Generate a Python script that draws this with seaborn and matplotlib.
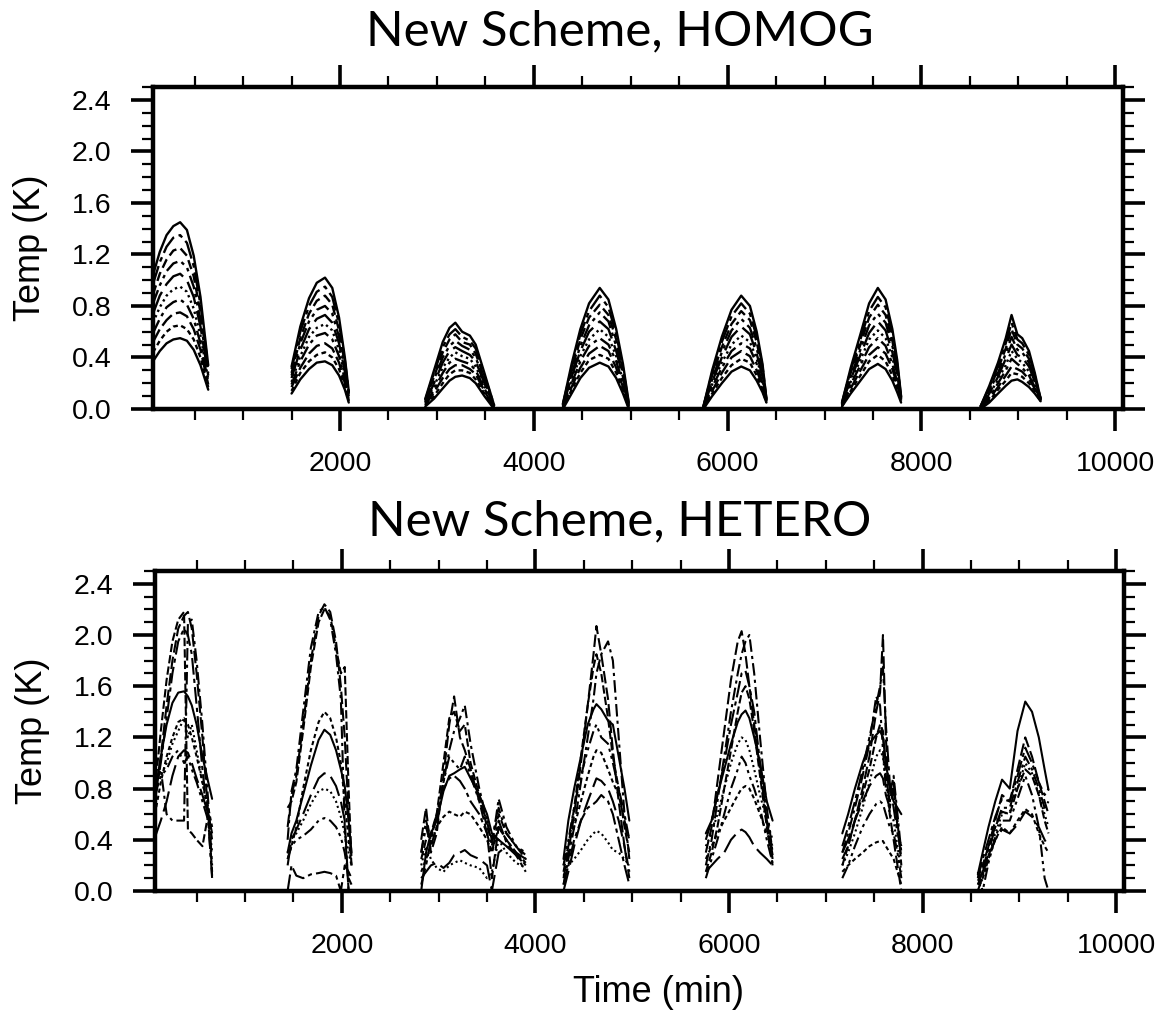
import pandas as pd
import seaborn as sns
import matplotlib.pyplot as plt
from matplotlib.ticker import MultipleLocator, FormatStrFormatter

# ---------------- HOMOG panel: ten nested curves per day ----------------
HOMOG_T1 = [70, 140, 210, 280, 350, 420, 490, 560, 640]
HOMOG_D1 = [
    [0.37, 0.45, 0.51, 0.54, 0.55, 0.53, 0.46, 0.34, 0.15],
    [0.44, 0.53, 0.60, 0.64, 0.65, 0.62, 0.54, 0.40, 0.17],
    [0.52, 0.62, 0.69, 0.74, 0.75, 0.72, 0.62, 0.46, 0.19],
    [0.59, 0.70, 0.79, 0.83, 0.85, 0.81, 0.70, 0.51, 0.21],
    [0.67, 0.79, 0.88, 0.93, 0.95, 0.91, 0.78, 0.57, 0.23],
    [0.74, 0.88, 0.97, 1.03, 1.05, 1.00, 0.87, 0.64, 0.26],
    [0.82, 0.96, 1.07, 1.13, 1.15, 1.10, 0.95, 0.69, 0.28],
    [0.89, 1.05, 1.16, 1.23, 1.25, 1.19, 1.03, 0.75, 0.30],
    [0.97, 1.14, 1.26, 1.33, 1.35, 1.29, 1.11, 0.81, 0.32],
    [1.04, 1.22, 1.35, 1.42, 1.45, 1.39, 1.19, 0.87, 0.34],
]
HOMOG_T2 = [1500, 1590, 1680, 1760, 1845, 1920, 1990, 2050, 2090]
HOMOG_D2 = [
    [0.12, 0.23, 0.31, 0.36, 0.37, 0.34, 0.26, 0.15, 0.05],
    [0.14, 0.28, 0.37, 0.42, 0.44, 0.40, 0.31, 0.17, 0.06],
    [0.17, 0.32, 0.43, 0.49, 0.51, 0.47, 0.36, 0.20, 0.07],
    [0.19, 0.37, 0.50, 0.57, 0.59, 0.54, 0.41, 0.23, 0.08],
    [0.21, 0.41, 0.56, 0.63, 0.66, 0.61, 0.46, 0.26, 0.09],
    [0.24, 0.46, 0.62, 0.70, 0.73, 0.67, 0.51, 0.29, 0.10],
    [0.26, 0.51, 0.68, 0.77, 0.80, 0.74, 0.56, 0.32, 0.11],
    [0.28, 0.55, 0.74, 0.84, 0.88, 0.81, 0.61, 0.35, 0.12],
    [0.31, 0.60, 0.80, 0.91, 0.95, 0.87, 0.66, 0.38, 0.13],
    [0.33, 0.64, 0.86, 0.98, 1.02, 0.94, 0.71, 0.40, 0.14],
]
HOMOG_T3 = [2880, 2970, 3060, 3130, 3190, 3260, 3340, 3400, 3490, 3590]
HOMOG_D3 = [
    [0.02, 0.08, 0.16, 0.22, 0.25, 0.26, 0.24, 0.20, 0.10, 0.00],
    [0.03, 0.10, 0.20, 0.27, 0.30, 0.30, 0.28, 0.23, 0.12, 0.00],
    [0.03, 0.13, 0.24, 0.31, 0.34, 0.34, 0.31, 0.27, 0.14, 0.01],
    [0.04, 0.15, 0.28, 0.36, 0.39, 0.37, 0.35, 0.30, 0.16, 0.01],
    [0.05, 0.18, 0.32, 0.40, 0.44, 0.41, 0.39, 0.33, 0.18, 0.01],
    [0.05, 0.20, 0.36, 0.45, 0.48, 0.45, 0.42, 0.37, 0.20, 0.02],
    [0.06, 0.23, 0.40, 0.49, 0.53, 0.49, 0.46, 0.40, 0.22, 0.02],
    [0.07, 0.25, 0.44, 0.54, 0.58, 0.52, 0.50, 0.43, 0.24, 0.02],
    [0.07, 0.28, 0.48, 0.58, 0.62, 0.56, 0.53, 0.47, 0.26, 0.03],
    [0.08, 0.30, 0.52, 0.63, 0.67, 0.60, 0.57, 0.50, 0.28, 0.03],
]
HOMOG_T4 = [4300, 4390, 4480, 4570, 4680, 4770, 4850, 4920, 4980]
HOMOG_D4 = [
    [0.00, 0.12, 0.24, 0.32, 0.36, 0.33, 0.24, 0.12, 0.00],
    [0.00, 0.15, 0.28, 0.38, 0.42, 0.39, 0.28, 0.15, 0.01],
    [0.01, 0.17, 0.32, 0.43, 0.49, 0.45, 0.32, 0.17, 0.01],
    [0.01, 0.20, 0.37, 0.49, 0.55, 0.50, 0.37, 0.20, 0.02],
    [0.02, 0.22, 0.41, 0.54, 0.62, 0.56, 0.41, 0.22, 0.02],
    [0.02, 0.25, 0.45, 0.60, 0.68, 0.62, 0.45, 0.25, 0.03],
    [0.03, 0.27, 0.49, 0.65, 0.75, 0.68, 0.49, 0.27, 0.03],
    [0.03, 0.30, 0.54, 0.71, 0.81, 0.73, 0.54, 0.30, 0.04],
    [0.04, 0.32, 0.58, 0.76, 0.88, 0.79, 0.58, 0.32, 0.04],
    [0.04, 0.35, 0.62, 0.82, 0.94, 0.85, 0.62, 0.35, 0.05],
]
HOMOG_T5 = [5750, 5840, 5940, 6040, 6140, 6230, 6300, 6360, 6400]
HOMOG_D5 = [
    [0.00, 0.10, 0.20, 0.29, 0.33, 0.30, 0.22, 0.13, 0.05],
    [0.00, 0.12, 0.24, 0.34, 0.39, 0.36, 0.26, 0.15, 0.05],
    [0.00, 0.14, 0.28, 0.40, 0.45, 0.41, 0.30, 0.18, 0.06],
    [0.01, 0.17, 0.32, 0.45, 0.51, 0.47, 0.35, 0.20, 0.06],
    [0.01, 0.19, 0.36, 0.50, 0.57, 0.52, 0.39, 0.23, 0.06],
    [0.01, 0.21, 0.40, 0.56, 0.64, 0.58, 0.43, 0.25, 0.07],
    [0.01, 0.23, 0.44, 0.61, 0.70, 0.63, 0.47, 0.28, 0.07],
    [0.02, 0.26, 0.48, 0.66, 0.76, 0.69, 0.52, 0.30, 0.07],
    [0.02, 0.28, 0.52, 0.72, 0.82, 0.74, 0.56, 0.33, 0.08],
    [0.02, 0.30, 0.56, 0.77, 0.88, 0.80, 0.60, 0.35, 0.08],
]
HOMOG_T6 = [7180, 7270, 7370, 7460, 7550, 7630, 7700, 7750, 7790]
HOMOG_D6 = [
    [0.02, 0.12, 0.22, 0.31, 0.35, 0.31, 0.22, 0.13, 0.05],
    [0.02, 0.14, 0.26, 0.37, 0.42, 0.37, 0.26, 0.16, 0.06],
    [0.03, 0.16, 0.30, 0.42, 0.48, 0.43, 0.31, 0.19, 0.06],
    [0.03, 0.19, 0.34, 0.48, 0.55, 0.49, 0.35, 0.21, 0.07],
    [0.03, 0.21, 0.38, 0.54, 0.61, 0.55, 0.40, 0.24, 0.07],
    [0.04, 0.23, 0.42, 0.59, 0.68, 0.61, 0.44, 0.27, 0.08],
    [0.04, 0.25, 0.46, 0.65, 0.74, 0.67, 0.49, 0.30, 0.08],
    [0.04, 0.28, 0.50, 0.71, 0.81, 0.73, 0.53, 0.32, 0.09],
    [0.05, 0.30, 0.54, 0.76, 0.87, 0.79, 0.58, 0.35, 0.09],
    [0.05, 0.32, 0.58, 0.82, 0.94, 0.85, 0.62, 0.38, 0.10],
]
HOMOG_T7 = [8610, 8700, 8790, 8870, 8930, 8990, 9040, 9110, 9170, 9230]
HOMOG_D7 = [
    [0.00, 0.05, 0.12, 0.18, 0.22, 0.23, 0.21, 0.17, 0.12, 0.06],
    [0.00, 0.06, 0.15, 0.22, 0.28, 0.27, 0.25, 0.20, 0.14, 0.06],
    [0.00, 0.08, 0.17, 0.26, 0.33, 0.31, 0.29, 0.23, 0.16, 0.06],
    [0.01, 0.09, 0.20, 0.30, 0.39, 0.35, 0.32, 0.26, 0.17, 0.07],
    [0.01, 0.11, 0.23, 0.34, 0.45, 0.39, 0.36, 0.29, 0.19, 0.07],
    [0.01, 0.12, 0.25, 0.39, 0.50, 0.42, 0.40, 0.33, 0.21, 0.07],
    [0.01, 0.14, 0.28, 0.43, 0.56, 0.46, 0.44, 0.36, 0.23, 0.07],
    [0.02, 0.15, 0.31, 0.47, 0.62, 0.50, 0.47, 0.39, 0.24, 0.08],
    [0.02, 0.17, 0.33, 0.51, 0.67, 0.54, 0.51, 0.42, 0.26, 0.08],
    [0.02, 0.18, 0.36, 0.55, 0.73, 0.58, 0.55, 0.45, 0.28, 0.08],
]

# ---------------- HETERO panel: nine ensemble members per day ----------------
HETERO_T1 = [70, 130, 190, 250, 310, 370, 410, 450, 500, 560, 620, 660]
HETERO_D1 = [
    [0.75, 1.05, 1.30, 1.47, 1.55, 1.56, 1.52, 1.45, 1.30, 1.05, 0.85, 0.72],
    [0.70, 1.05, 1.45, 1.80, 2.05, 2.15, 2.18, 2.05, 1.70, 1.20, 0.60, 0.15],
    [0.85, 0.95, 0.60, 0.55, 0.55, 0.55, 2.10, 2.12, 1.80, 1.30, 0.70, 0.20],
    [0.80, 1.25, 1.65, 1.95, 2.12, 2.18, 0.48, 0.45, 0.40, 0.35, 0.60, 0.40],
    [0.60, 0.85, 1.05, 1.20, 1.32, 1.35, 1.30, 1.20, 1.05, 0.85, 0.65, 0.50],
    [0.42, 0.55, 0.70, 0.90, 1.05, 1.10, 1.08, 1.00, 0.88, 0.75, 0.60, 0.45],
    [0.95, 0.90, 1.00, 1.15, 1.25, 1.35, 1.20, 1.30, 1.10, 0.85, 0.60, 0.30],
    [0.75, 0.90, 0.95, 1.05, 1.10, 1.00, 1.05, 0.95, 0.85, 0.70, 0.55, 0.12],
    [0.72, 1.00, 1.35, 1.70, 1.95, 2.05, 2.00, 1.85, 1.45, 0.95, 0.55, 0.10],
]
HETERO_T2 = [1440, 1480, 1530, 1600, 1680, 1760, 1820, 1880, 1940, 1990, 2030, 2070, 2100]
HETERO_D2 = [
    [0.30, 0.45, 0.55, 0.75, 0.98, 1.18, 1.26, 1.22, 1.10, 0.95, 0.82, 0.55, 0.30],
    [0.50, 0.75, 0.90, 1.30, 1.80, 2.15, 2.24, 2.18, 1.95, 1.60, 1.20, 0.60, 0.20],
    [0.40, 0.78, 0.95, 1.40, 1.90, 2.18, 2.22, 2.12, 1.85, 1.50, 0.50, 0.00, 0.00],
    [0.65, 0.70, 0.85, 1.25, 1.75, 2.10, 2.20, 2.15, 1.90, 1.70, 1.75, 0.80, 0.25],
    [0.25, 0.35, 0.50, 0.80, 1.10, 1.32, 1.40, 1.35, 1.20, 1.00, 0.70, 0.40, 0.20],
    [0.20, 0.40, 0.48, 0.60, 0.75, 0.88, 0.92, 0.90, 0.82, 0.70, 0.55, 0.00, 0.00],
    [0.30, 0.42, 0.45, 0.55, 0.68, 0.78, 0.80, 0.78, 0.70, 0.58, 0.45, 0.30, 0.20],
    [0.25, 0.35, 0.40, 0.43, 0.48, 0.55, 0.57, 0.55, 0.50, 0.42, 0.30, 0.10, 0.05],
    [0.00, 0.20, 0.12, 0.10, 0.13, 0.14, 0.15, 0.14, 0.12, 0.00, 0.20, 0.15, 0.10],
]
HETERO_T3 = [2820, 2870, 2920, 2980, 3050, 3110, 3160, 3220, 3270, 3330, 3420,
             3500, 3550, 3620, 3700, 3800, 3900]
HETERO_D3 = [
    [0.00, 0.30, 0.45, 0.55, 0.78, 0.90, 0.92, 0.95, 0.97, 0.88, 0.75, 0.60, 0.45, 0.40, 0.35, 0.30, 0.25],
    [0.40, 0.65, 0.30, 0.45, 0.90, 1.30, 1.52, 1.20, 1.10, 0.95, 0.70, 0.45, 0.10, 0.50, 0.40, 0.30, 0.20],
    [0.30, 0.50, 0.35, 0.50, 0.85, 1.10, 1.25, 1.35, 1.45, 1.15, 0.80, 0.55, 0.35, 0.72, 0.50, 0.35, 0.25],
    [0.25, 0.40, 0.45, 0.60, 1.00, 1.35, 1.40, 1.25, 1.30, 1.00, 0.75, 0.50, 0.40, 0.60, 0.45, 0.35, 0.28],
    [0.15, 0.25, 0.35, 0.50, 0.58, 0.62, 0.60, 0.58, 0.62, 0.60, 0.50, 0.40, 0.30, 0.50, 0.40, 0.30, 0.22],
    [0.10, 0.15, 0.20, 0.22, 0.18, 0.22, 0.28, 0.30, 0.32, 0.28, 0.25, 0.20, 0.00, 0.30, 0.35, 0.28, 0.20],
    [0.20, 0.35, 0.25, 0.18, 0.15, 0.20, 0.22, 0.24, 0.22, 0.20, 0.18, 0.10, 0.15, 0.40, 0.30, 0.22, 0.18],
    [0.30, 0.55, 0.40, 0.60, 0.85, 1.05, 1.00, 0.95, 1.05, 0.90, 0.70, 0.55, 0.40, 0.65, 0.45, 0.35, 0.30],
    [0.05, 0.20, 0.40, 0.60, 0.80, 0.88, 0.90, 0.86, 0.80, 0.70, 0.60, 0.45, 0.30, 0.55, 0.38, 0.28, 0.15],
]
HETERO_T4 = [4290, 4340, 4400, 4470, 4540, 4600, 4630, 4680, 4750, 4800, 4860, 4920, 4970]
HETERO_D4 = [
    [0.25, 0.55, 0.80, 1.05, 1.30, 1.42, 1.46, 1.42, 1.33, 1.30, 1.05, 0.80, 0.55],
    [0.10, 0.30, 0.60, 1.00, 1.45, 1.85, 2.07, 1.85, 1.50, 1.10, 0.70, 0.35, 0.15],
    [0.05, 0.25, 0.50, 0.85, 1.20, 1.50, 1.70, 1.85, 1.95, 1.80, 1.20, 0.60, 0.25],
    [0.15, 0.35, 0.65, 1.05, 1.45, 1.75, 1.85, 1.70, 1.35, 1.05, 0.80, 0.50, 0.30],
    [0.20, 0.35, 0.50, 0.70, 0.90, 1.05, 1.10, 1.08, 0.95, 0.85, 0.75, 0.55, 0.40],
    [0.00, 0.15, 0.35, 0.55, 0.70, 0.82, 0.88, 0.86, 0.80, 0.70, 0.55, 0.35, 0.10],
    [0.12, 0.20, 0.25, 0.32, 0.40, 0.45, 0.47, 0.45, 0.38, 0.32, 0.30, 0.25, 0.20],
    [0.20, 0.40, 0.65, 0.90, 1.10, 1.25, 1.30, 1.20, 1.15, 1.00, 0.80, 0.60, 0.40],
    [0.05, 0.20, 0.40, 0.55, 0.65, 0.68, 0.70, 0.75, 0.70, 0.60, 0.40, 0.20, 0.05],
]
HETERO_T5 = [5760, 5820, 5880, 5950, 6020, 6090, 6130, 6170, 6210, 6260, 6320, 6390, 6450]
HETERO_D5 = [
    [0.45, 0.55, 0.75, 0.95, 1.15, 1.32, 1.38, 1.41, 1.35, 1.20, 1.00, 0.70, 0.55],
    [0.30, 0.50, 0.85, 1.25, 1.65, 1.95, 2.03, 1.85, 1.60, 1.30, 0.95, 0.55, 0.25],
    [0.20, 0.40, 0.70, 1.05, 1.40, 1.70, 1.85, 1.95, 2.00, 1.70, 1.20, 0.65, 0.30],
    [0.15, 0.30, 0.50, 0.80, 1.10, 1.40, 1.55, 1.60, 1.50, 1.25, 0.90, 0.50, 0.20],
    [0.25, 0.35, 0.45, 0.55, 0.65, 0.75, 0.80, 0.82, 0.80, 0.72, 0.60, 0.45, 0.35],
    [0.15, 0.20, 0.25, 0.30, 0.40, 0.46, 0.48, 0.46, 0.42, 0.35, 0.30, 0.25, 0.20],
    [0.35, 0.45, 0.60, 0.80, 1.00, 1.15, 1.20, 1.18, 1.10, 0.95, 0.75, 0.55, 0.40],
    [0.10, 0.25, 0.40, 0.60, 0.80, 0.95, 1.05, 1.00, 0.90, 0.80, 0.65, 0.40, 0.22],
    [0.40, 0.55, 0.75, 1.00, 1.30, 1.55, 1.70, 1.72, 1.60, 1.40, 1.00, 0.55, 0.28],
]
HETERO_T6 = [7170, 7230, 7300, 7380, 7450, 7520, 7560, 7590, 7620, 7660, 7700, 7740, 7780]
HETERO_D6 = [
    [0.45, 0.60, 0.80, 1.00, 1.15, 1.22, 1.25, 1.20, 1.00, 0.80, 0.70, 0.65, 0.60],
    [0.25, 0.35, 0.55, 0.80, 1.05, 1.40, 1.55, 2.00, 1.20, 0.60, 0.40, 0.20, 0.00],
    [0.30, 0.45, 0.65, 0.90, 1.15, 1.52, 1.45, 1.10, 0.80, 0.75, 0.90, 0.60, 0.30],
    [0.20, 0.35, 0.55, 0.75, 0.95, 1.20, 1.30, 1.25, 0.90, 0.70, 0.85, 0.55, 0.20],
    [0.15, 0.20, 0.25, 0.30, 0.35, 0.38, 0.39, 0.39, 0.35, 0.30, 0.25, 0.15, 0.05],
    [0.30, 0.40, 0.55, 0.70, 0.82, 0.90, 0.92, 0.88, 0.75, 0.65, 0.80, 0.50, 0.25],
    [0.20, 0.30, 0.45, 0.65, 0.85, 1.05, 1.10, 1.05, 0.85, 0.60, 0.55, 0.35, 0.15],
    [0.10, 0.20, 0.35, 0.50, 0.60, 0.68, 0.70, 0.68, 0.60, 0.50, 0.45, 0.30, 0.10],
    [0.35, 0.50, 0.70, 0.95, 1.20, 1.45, 1.60, 1.75, 1.30, 0.85, 0.65, 0.45, 0.35],
]
HETERO_T7 = [8570, 8620, 8680, 8750, 8820, 8900, 8980, 9060, 9130, 9200, 9260, 9300]
HETERO_D7 = [
    [0.13, 0.30, 0.50, 0.70, 0.87, 0.80, 1.25, 1.48, 1.40, 1.20, 0.95, 0.79],
    [0.05, 0.15, 0.35, 0.55, 0.75, 0.70, 0.95, 1.20, 1.05, 0.85, 0.70, 0.60],
    [0.00, 0.12, 0.30, 0.50, 0.65, 0.65, 0.85, 1.05, 0.95, 0.80, 0.65, 0.70],
    [0.10, 0.20, 0.35, 0.50, 0.62, 0.60, 0.80, 0.95, 0.90, 0.75, 0.55, 0.45],
    [0.05, 0.10, 0.25, 0.40, 0.50, 0.45, 0.55, 0.64, 0.60, 0.45, 0.35, 0.30],
    [0.08, 0.15, 0.28, 0.40, 0.48, 0.45, 0.52, 0.62, 0.58, 0.50, 0.40, 0.35],
    [0.00, 0.10, 0.25, 0.45, 0.60, 0.62, 0.80, 1.00, 0.92, 0.75, 0.60, 0.50],
    [0.15, 0.00, 0.22, 0.42, 0.55, 0.55, 0.72, 0.90, 0.75, 0.50, 0.10, 0.00],
    [0.10, 0.25, 0.40, 0.58, 0.72, 0.70, 0.90, 1.12, 1.00, 0.85, 0.75, 0.80],
]

HOMOG_DASHES = ["", (2, 1.5), (6, 2), (6, 2, 1.5, 2), (1, 1.5), (10, 3),
                (6, 2, 1.5, 2, 1.5, 2), (4, 2), (8, 2, 2, 2), ""]
HETERO_DASHES = ["", (6, 2), (6, 2, 1.5, 2), (4, 1.5), (2, 1.5), (10, 3),
                 (1, 1.5), (6, 2, 1.5, 2, 1.5, 2), (8, 2, 2, 2)]


def long_frame(times, curves, tag):
    rows = []
    for d, (t, day) in enumerate(zip(times, curves)):
        for k, vals in enumerate(day):
            for x, y in zip(t, vals):
                rows.append((x, y, "m%d" % k, "%s%d_%d" % (tag, d, k)))
    return pd.DataFrame(rows, columns=["time", "temp", "member", "line"])


def style_axes(ax):
    ax.set_xlim(70, 10080)
    ax.set_ylim(0, 2.5)
    ax.xaxis.set_major_locator(MultipleLocator(2000))
    ax.xaxis.set_minor_locator(MultipleLocator(500))
    ax.yaxis.set_major_locator(MultipleLocator(0.4))
    ax.yaxis.set_minor_locator(MultipleLocator(0.1))
    ax.yaxis.set_major_formatter(FormatStrFormatter("%.1f"))
    for sp in ax.spines.values():
        sp.set_linewidth(3.2)
        sp.set_color("black")
    ax.tick_params(which="major", direction="out", length=16, width=2.6,
                   top=True, right=True, labelsize=20.5, pad=14,
                   color="black", labelcolor="black")
    ax.tick_params(which="minor", direction="out", length=8, width=1.6,
                   top=True, right=True, color="black")
    ax.set_ylabel("Temp (K)", fontsize=26, color="black")
    ax.yaxis.set_label_coords(-0.108, 0.5)
    ax.set_xlabel("")


sns.set_style("ticks")
plt.rcParams["font.family"] = ["Liberation Sans", "DejaVu Sans"]
plt.rcParams["text.color"] = "black"

fig = plt.figure(figsize=(11.59, 10.13), dpi=100)
ax1 = fig.add_axes([153 / 1159, 1 - 409 / 1013, 970 / 1159, 322 / 1013])
ax2 = fig.add_axes([155 / 1159, 1 - 891 / 1013, 969 / 1159, 320 / 1013])

homog = long_frame([HOMOG_T1, HOMOG_T2, HOMOG_T3, HOMOG_T4, HOMOG_T5, HOMOG_T6, HOMOG_T7],
                   [HOMOG_D1, HOMOG_D2, HOMOG_D3, HOMOG_D4, HOMOG_D5, HOMOG_D6, HOMOG_D7], "h")
hetero = long_frame([HETERO_T1, HETERO_T2, HETERO_T3, HETERO_T4, HETERO_T5, HETERO_T6, HETERO_T7],
                    [HETERO_D1, HETERO_D2, HETERO_D3, HETERO_D4, HETERO_D5, HETERO_D6, HETERO_D7], "e")

sns.lineplot(data=homog, x="time", y="temp", units="line", style="member",
             style_order=["m%d" % k for k in range(10)], dashes=HOMOG_DASHES,
             color="black", lw=1.7, estimator=None, sort=False, legend=False, ax=ax1)
sns.lineplot(data=hetero, x="time", y="temp", units="line", style="member",
             style_order=["m%d" % k for k in range(9)], dashes=HETERO_DASHES,
             color="black", lw=1.5, estimator=None, sort=False, legend=False, ax=ax2)

style_axes(ax1)
style_axes(ax2)
ax2.set_xlabel("Time (min)", fontsize=26, color="black")
ax2.xaxis.set_label_coords(0.52, -0.262)

fig.text(0.535, 1 - 45 / 1013, "New Scheme, HOMOG", ha="center", va="baseline",
         fontsize=35.5, color="black", family=["Lato", "DejaVu Sans"])
fig.text(0.535, 1 - 535 / 1013, "New Scheme, HETERO", ha="center", va="baseline",
         fontsize=35.5, color="black", family=["Lato", "DejaVu Sans"])

fig.savefig("out.png", dpi=100)
